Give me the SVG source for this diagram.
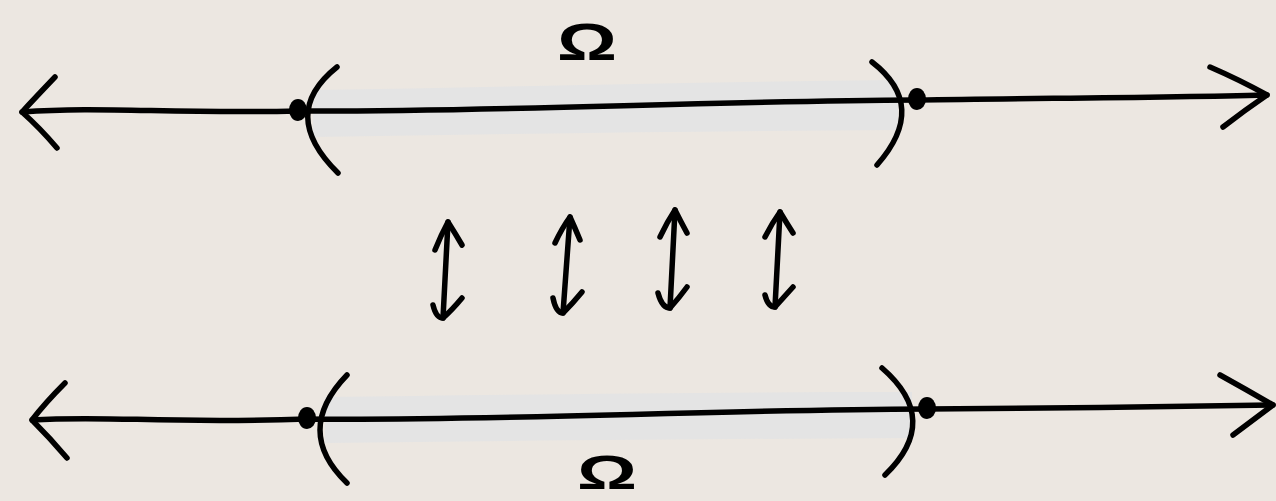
<svg xmlns="http://www.w3.org/2000/svg" width="1276" height="501" viewBox="0 0 1276 501">
  <style>
    .ink { fill: none; stroke: #000; stroke-width: 5.5; stroke-linecap: round; stroke-linejoin: round; }
    .dot { fill: #000; }
    .band { fill: #E4E4E4; }
    .omega { font-family: "Liberation Sans", "DejaVu Sans", sans-serif; font-weight: bold; fill: #000; text-anchor: middle; }
  </style>
  <rect x="0" y="0" width="1276" height="501" fill="#ECE7E1"/>

  <g id="top-line">
    <path class="band" d="M313,90 C500,87 700,82 898,80 L898,130 C700,131 500,134 313,137 Z"/>
    <path class="ink" d="M22,112 C100,106 170,114 298,111 C500,112 700,101 917,100 C1050,98 1150,98 1267,95"/>
    <path class="ink" d="M55,77 Q35,98 22,112 Q40,128 57,148"/>
    <path class="ink" d="M1210,67 Q1240,80 1267,95 Q1245,110 1223,127"/>
    <path class="ink" d="M337,67 Q278,114 338,173"/>
    <path class="ink" d="M872,62 Q929,106 877,165"/>
    <ellipse class="dot" cx="298" cy="110" rx="9" ry="11"/>
    <ellipse class="dot" cx="917" cy="99" rx="9" ry="11"/>
    <text class="omega" x="587" y="60" font-size="52" textLength="60" lengthAdjust="spacingAndGlyphs">Ω</text>
  </g>

  <g id="bottom-line">
    <path class="band" d="M325,397 C500,395 700,392 912,392 L912,438 C700,439 500,441 325,443 Z"/>
    <path class="ink" d="M32,420 C110,415 160,424 307,419 C500,421 700,410 927,409 C1050,408 1150,407 1273,405"/>
    <path class="ink" d="M65,383 Q45,403 32,420 Q50,438 67,458"/>
    <path class="ink" d="M1220,375 Q1247,390 1273,405 Q1253,420 1233,435"/>
    <path class="ink" d="M347,375 Q293,431 347,483"/>
    <path class="ink" d="M882,368 Q942,420 885,475"/>
    <ellipse class="dot" cx="307" cy="418" rx="9" ry="11"/>
    <ellipse class="dot" cx="927" cy="408" rx="9" ry="11"/>
    <text class="omega" x="607" y="489" font-size="48" textLength="60" lengthAdjust="spacingAndGlyphs">Ω</text>
  </g>

  <g id="connectors">
    <path class="ink" d="M448,222 L443,318"/>
    <path class="ink" d="M435,250 Q441,235 448,222 Q455,233 462,245"/>
    <path class="ink" d="M433,305 Q436,318 443,318 Q452,310 462,298"/>

    <path class="ink" d="M570,217 L563,313"/>
    <path class="ink" d="M555,243 Q562,228 570,217 Q575,228 580,240"/>
    <path class="ink" d="M553,298 Q556,313 563,313 Q573,303 582,292"/>

    <path class="ink" d="M675,210 L670,308"/>
    <path class="ink" d="M660,237 Q667,222 675,210 Q681,222 687,233"/>
    <path class="ink" d="M658,293 Q662,308 670,308 Q679,298 687,287"/>

    <path class="ink" d="M780,212 L775,307"/>
    <path class="ink" d="M765,237 Q772,223 780,212 Q786,222 793,233"/>
    <path class="ink" d="M765,295 Q768,307 775,307 Q784,297 793,287"/>
  </g>
</svg>
